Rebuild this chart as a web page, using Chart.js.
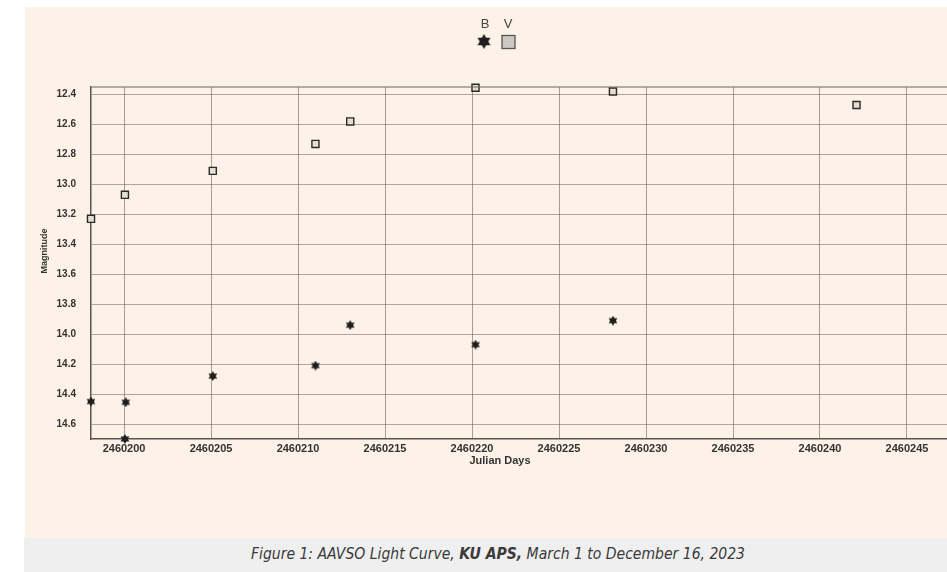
<!DOCTYPE html>
<html>
<head>
<meta charset="utf-8">
<script src="https://cdn.jsdelivr.net/npm/chart.js@4/dist/chart.umd.min.js"></script>
<style>
  body { margin: 0; background: #fff; width: 947px; height: 572px; overflow: hidden; position: relative; }
  #panel { position: absolute; left: 25px; top: 7px; width: 922px; height: 531px; background: #fdf2e7; }
  #wrap { position: absolute; left: 0; top: 0; width: 947px; height: 538px; }
  #caption { position: absolute; left: 24px; top: 538px; width: 923px; height: 34px; background: #efefef; }
  #caption span { position: absolute; left: 227px; top: 6px; white-space: nowrap; color: #3a3a3a;
    font-family: "DejaVu Sans Condensed", "Liberation Sans Narrow", "Liberation Sans", sans-serif;
    font-style: italic; font-size: 16px; font-stretch: condensed; transform-origin: 0 0; }
</style>
</head>
<body>
<div id="panel"></div>
<div id="wrap"><canvas id="lightCurve" width="947" height="538"></canvas></div>
<div id="caption"><span id="capText">Figure 1: AAVSO Light Curve, <b>KU APS,</b> March 1 to December 16, 2023</span></div>
<script>
// julian days + magnitudes
const bDays = [2460198.1, 2460200.1, 2460200.05, 2460205.1, 2460211.0, 2460213.0, 2460220.2, 2460228.1];
const bMags = [14.45, 14.455, 14.70, 14.28, 14.21, 13.94, 14.07, 13.91];
const vDays = [2460198.1, 2460200.05, 2460205.1, 2460211.0, 2460213.0, 2460220.2, 2460228.1, 2460242.1];
const vMags = [13.23, 13.07, 12.91, 12.73, 12.58, 12.355, 12.38, 12.47];

// axis ticks
const dayTicks = [2460200, 2460205, 2460210, 2460215, 2460220, 2460225, 2460230, 2460235, 2460240, 2460245];
const magTicks = [12.4, 12.6, 12.8, 13.0, 13.2, 13.4, 13.6, 13.8, 14.0, 14.2, 14.4, 14.6];
const seriesNames = ['B', 'V'];

function toPoints(xs, ys) {
    return xs.map((x, i) => ({ x: x, y: ys[i] }));
}

// filled six point star used for B
function makeStar(size) {
    const c = document.createElement('canvas');
    c.width = size;
    c.height = size;
    const g = c.getContext('2d');
    const r = size / 2;
    g.fillStyle = '#1e1e1e';
    g.beginPath();
    for (let i = 0; i < 12; i++) {
        const a = -Math.PI / 2 + i * Math.PI / 6;
        const rr = i % 2 === 0 ? r : r * 0.58;
        g.lineTo(r + rr * Math.cos(a), r + rr * Math.sin(a));
    }
    g.closePath();
    g.fill();
    return c;
}

const starSmall = makeStar(10);
const starBig = makeStar(15);

// legend with the label above the symbol, plus the two axis titles
const extras = {
    id: 'extras',
    afterDraw(chart) {
        const ctx = chart.ctx;
        const area = chart.chartArea;
        ctx.save();
        // top frame line
        ctx.strokeStyle = '#6b6661';
        ctx.lineWidth = 1.2;
        ctx.beginPath();
        ctx.moveTo(area.left, area.top);
        ctx.lineTo(area.right, area.top);
        ctx.stroke();

        ctx.fillStyle = '#444';
        ctx.font = '13px "Liberation Sans", Arial, sans-serif';
        ctx.textAlign = 'center';
        ctx.textBaseline = 'middle';
        ctx.fillText(seriesNames[0], 485, 24);
        ctx.fillText(seriesNames[1], 508, 24);
        ctx.drawImage(starBig, 484 - 7.5, 41.5 - 7.5, 15, 15);
        ctx.fillStyle = '#cdc8c3';
        ctx.strokeStyle = '#555';
        ctx.lineWidth = 1.3;
        ctx.fillRect(502, 35.5, 13, 13);
        ctx.strokeRect(502, 35.5, 13, 13);

        ctx.fillStyle = '#333';
        ctx.font = 'bold 11px "Liberation Sans", Arial, sans-serif';
        ctx.fillText('Julian Days', 500, 461);
        ctx.translate(45, 251);
        ctx.rotate(-Math.PI / 2);
        ctx.font = 'bold 9px "Liberation Sans", Arial, sans-serif';
        ctx.fillText('Magnitude', 0, 0);
        ctx.restore();
    }
};

function createLightCurve() {
    const ctx = document.getElementById('lightCurve').getContext('2d');
    new Chart(ctx, {
        type: 'scatter',
        data: {
            datasets: [{
                label: seriesNames[0],
                data: toPoints(bDays, bMags),
                pointStyle: starSmall,
                clip: false,
            }, {
                label: seriesNames[1],
                data: toPoints(vDays, vMags),
                pointStyle: 'rect',
                pointRadius: 5,
                pointBackgroundColor: '#e6ddd3',
                pointBorderColor: '#2a2a2a',
                pointBorderWidth: 1.4,
                clip: false,
            }],
        },
        options: {
            responsive: false,
            animation: false,
            layout: { autoPadding: false, padding: { left: 38, top: 87, right: 0, bottom: 0 } },
            plugins: {
                legend: { display: false },
                tooltip: { enabled: false },
            },
            scales: {
                x: {
                    type: 'linear',
                    min: 2460198.1,
                    max: 2460247.3,
                    afterBuildTicks: (s) => { s.ticks = dayTicks.map(v => ({ value: v })); },
                    afterFit: (s) => { s.height = 99; s.paddingLeft = 0; s.paddingRight = 0; },
                    grid: { color: 'rgba(110,100,95,0.6)', lineWidth: 1, drawTicks: false },
                    border: { color: '#5a5550', width: 1.5 },
                    ticks: {
                        padding: 3,
                        color: '#333',
                        font: { family: '"Liberation Sans", Arial, sans-serif', size: 11, weight: 'bold' },
                        callback: (v) => String(v),
                    },
                },
                y: {
                    reverse: true,
                    min: 12.35,
                    max: 14.7,
                    afterBuildTicks: (s) => { s.ticks = magTicks.map(v => ({ value: v })); },
                    afterFit: (s) => { s.width = 53; s.paddingTop = 0; s.paddingBottom = 0; },
                    grid: { color: 'rgba(110,100,95,0.55)', lineWidth: 1, drawTicks: false },
                    border: { color: '#5a5550', width: 1.5 },
                    ticks: {
                        padding: 15,
                        color: '#333',
                        font: { family: '"Liberation Sans", Arial, sans-serif', size: 10, weight: 'bold' },
                        callback: (v) => v.toFixed(1),
                    },
                },
            },
        },
        plugins: [extras],
    });
}

// stretch the caption to the width it has in the figure
function fitCaption() {
    const el = document.getElementById('capText');
    const w = el.getBoundingClientRect().width;
    el.style.transform = 'scaleX(' + (494 / w) + ')';
}

document.addEventListener('DOMContentLoaded', () => {
    createLightCurve();
    fitCaption();
});
</script>
</body>
</html>
